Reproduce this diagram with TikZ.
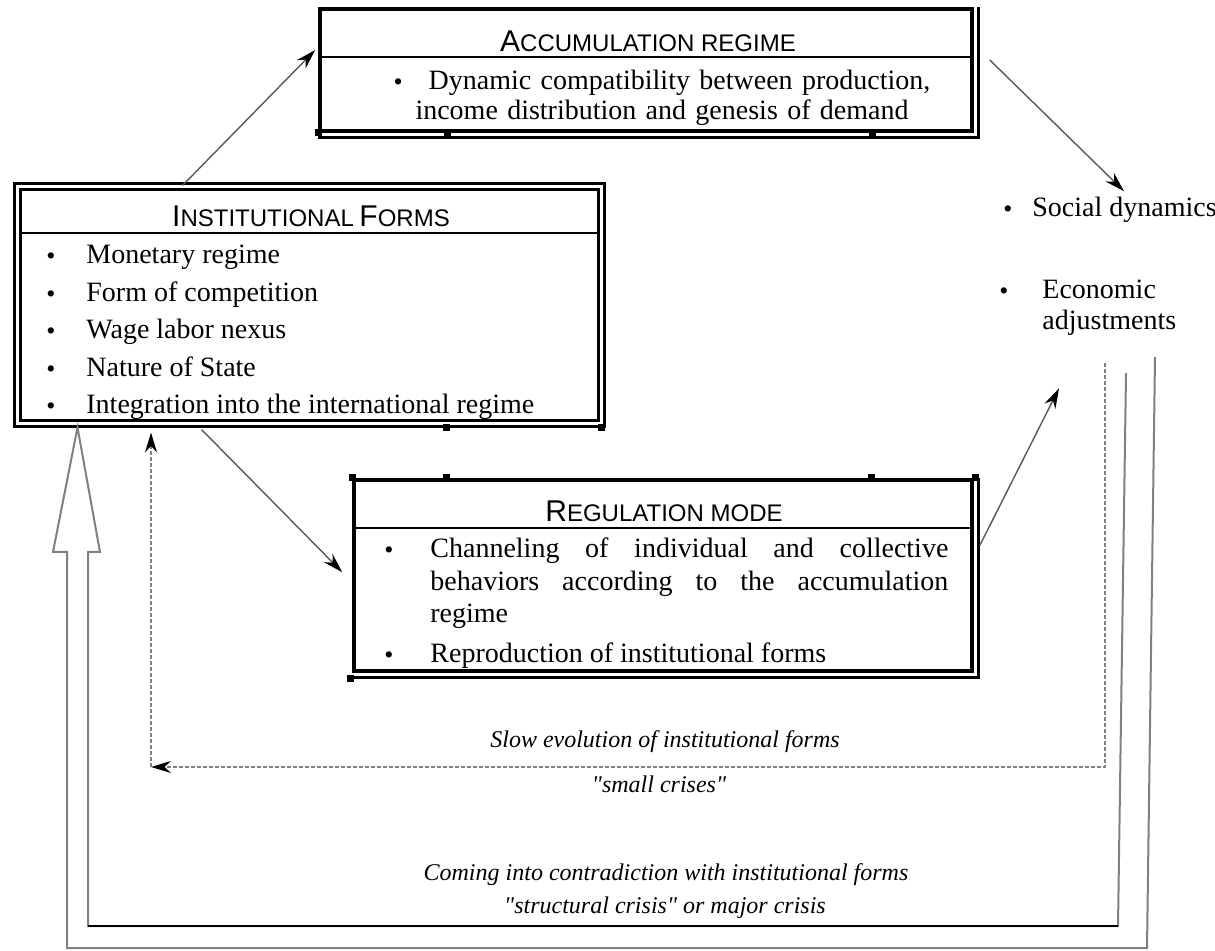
\documentclass[tikz,border=0pt]{standalone}
\usepackage{fontspec}
\setmainfont{Liberation Serif}
\newfontfamily\titlefont{Liberation Sans}
\newfontfamily\crisisfont{Liberation Serif}[Ligatures=TeXOff]
\usetikzlibrary{arrows.meta}
\newcommand{\bul}{\raisebox{-0.3pt}{\fontsize{13}{13}\selectfont\textbullet}}
\newcommand{\capbig}[1]{{\fontsize{15}{15}\selectfont #1}}
\newcommand{\capsml}[1]{{\fontsize{12}{12}\selectfont #1}}

\begin{document}
\begin{tikzpicture}[
  x=0.5pt, y=-0.5pt,
  font=\fontsize{14}{16.25}\selectfont,
  frame/.style={draw, line width=1.75pt, inner sep=0pt},
  dframe/.style={draw, line width=1.5pt, double, double distance=1.5pt, inner sep=0pt},
  sepline/.style={line width=1pt},
  boxtitle/.style={font=\titlefont, anchor=base, inner sep=0pt},
  txt/.style={anchor=base west, inner sep=0pt},
  crisis/.style={font=\crisisfont\fontsize{12}{14}\selectfont\itshape, anchor=base, inner sep=0pt},
  arrow/.style={draw=gray!70!black, line width=0.7pt, -{Stealth[length=10pt, width=6pt, black]}},
  dotarrow/.style={draw=gray, line width=0.7pt, dash pattern=on 2pt off 1pt, -{Stealth[length=10pt, width=6pt, black]}},
  hollow/.style={draw=gray, line width=1pt},
  handle/.style={fill, minimum size=3.5pt, inner sep=0pt}
]
\fill[white] (0,0) rectangle (1215,951);
\useasboundingbox (0,0) rectangle (1215,951);

% --- Accumulation regime ---
\node[frame, minimum width=326pt, minimum height=61pt] (accum) at (646,70) {};
\draw[line width=1.5pt] ([shift={(2.5pt,0pt)}]accum.north east) -- ([shift={(2.5pt,-2.5pt)}]accum.south east) -- ([yshift=-2.5pt]accum.south west);
\draw[sepline] ([yshift=-25pt]accum.north west) -- ([yshift=-25pt]accum.north east);
\node[boxtitle] (accumtitle) at (648,52) {\capbig{A}\capsml{CCUMULATION REGIME}};
\node[anchor=base, inner sep=0pt, text width=290pt, align=center, font=\fontsize{14}{15}\selectfont] (accumbody) at (662,90)
{\makebox[17.5pt][l]{\bul}Dynamic compatibility between production,\\income distribution and genesis of demand};

% --- Institutional forms ---
\node[dframe, minimum width=292pt, minimum height=118.5pt] (inst) at (309,305.5) {};
\draw[sepline, shorten <=2pt, shorten >=2pt] ([yshift=-24pt]inst.north west) -- ([yshift=-24pt]inst.north east);
\node[boxtitle] (insttitle) at (311,227) {\capbig{I}\capsml{NSTITUTIONAL} \capbig{F}\capsml{ORMS}};
\foreach \lbl [count=\i] in {Monetary regime, Form of competition, Wage labor nexus, Nature of State, Integration into the international regime}
  \node[txt] (inst\i) at (46,226.5+37.5*\i) {\makebox[20pt][l]{\bul}\lbl};

% --- Regulation mode ---
\node[frame, minimum width=309pt, minimum height=95.5pt] (reg) at (663,575.5) {};
\draw[line width=1.5pt] ([shift={(2.5pt,0pt)}]reg.north east) -- ([shift={(2.5pt,-2.5pt)}]reg.south east) -- ([shift={(-1pt,-2.5pt)}]reg.south west);
\draw[sepline] ([yshift=-25pt]reg.north west) -- ([yshift=-25pt]reg.north east);
\node[boxtitle] (regtitle) at (664,522) {\capbig{R}\capsml{EGULATION MODE}};
\node[txt, text width=282pt, align=justify] (regbody) at (384,558)
{\hyphenpenalty=10000\hangindent=23pt\hangafter=1\makebox[23pt][l]{\bul}Channeling of individual and collective behaviors according to the accumulation regime\par\vspace{3.75pt}%
\hangindent=23pt\hangafter=1\makebox[23pt][l]{\bul}Reproduction of institutional forms};

% frame handles
\foreach \hx/\hy [count=\k] in {318/133, 447/133, 872/133, 352/478, 446/478, 871/478, 975/478, 446/428, 601/428, 350/678}
  \node[handle] (handle\k) at (\hx,\hy) {};

% --- Right column ---
\node[txt] (social) at (1003,217) {\makebox[14.5pt][l]{\bul}Social dynamics};
\node[txt] (econ) at (999,299) {\makebox[21.5pt][l]{\bul}\parbox[t]{80pt}{\fontsize{14}{15.5}\selectfont Economic\\adjustments}};

% --- Crisis labels ---
\node[crisis] (slow) at (665,747) {Slow evolution of institutional forms};
\node[crisis] (small) at (659,792) {"small crises"};
\node[crisis] (coming) at (666,880) {Coming into contradiction with institutional forms};
\node[crisis] (structural) at (665,913) {"structural crisis" or major crisis};

% --- Arrows ---
\draw[arrow] ([xshift=83.5pt]inst.north west) -- ([shift={(-1.5pt,10pt)}]accum.west);
\draw[arrow] ([shift={(8pt,5pt)}]accum.east) -- ([shift={(60.5pt,3pt)}]social.north west);
\draw[arrow] ([shift={(93pt,-2pt)}]inst.south west) -- ([shift={(-5pt,-47pt)}]reg.north west);
\draw[arrow] ([shift={(3pt,15pt)}]reg.east) -- ([shift={(30pt,-26pt)}]econ.south west);

% small crises loop
\coordinate (dottop) at (1105,363);
\coordinate (dotcorner) at (151,767);
\draw[dotarrow] (dottop) |- (dotcorner);
\draw[dotarrow] (dotcorner) -- ([yshift=-3.5pt]dotcorner |- inst.south);

% structural crisis loop (hollow arrow)
\coordinate (outertop) at (1155,357);
\coordinate (innertop) at (1126,373);
\coordinate (hollowtip) at ([xshift=31pt,yshift=-1pt]inst.south west);
\draw[hollow] (outertop) -- (1147,948) -- (67,948) -- (67,552) -- (53,552) -- (hollowtip) -- (100,552) -- (88,552) -- (88,926) -- (1118,926) -- (innertop);
\draw[line width=1.2pt] (88,926) -- (1118,926);

\end{tikzpicture}
\end{document}
